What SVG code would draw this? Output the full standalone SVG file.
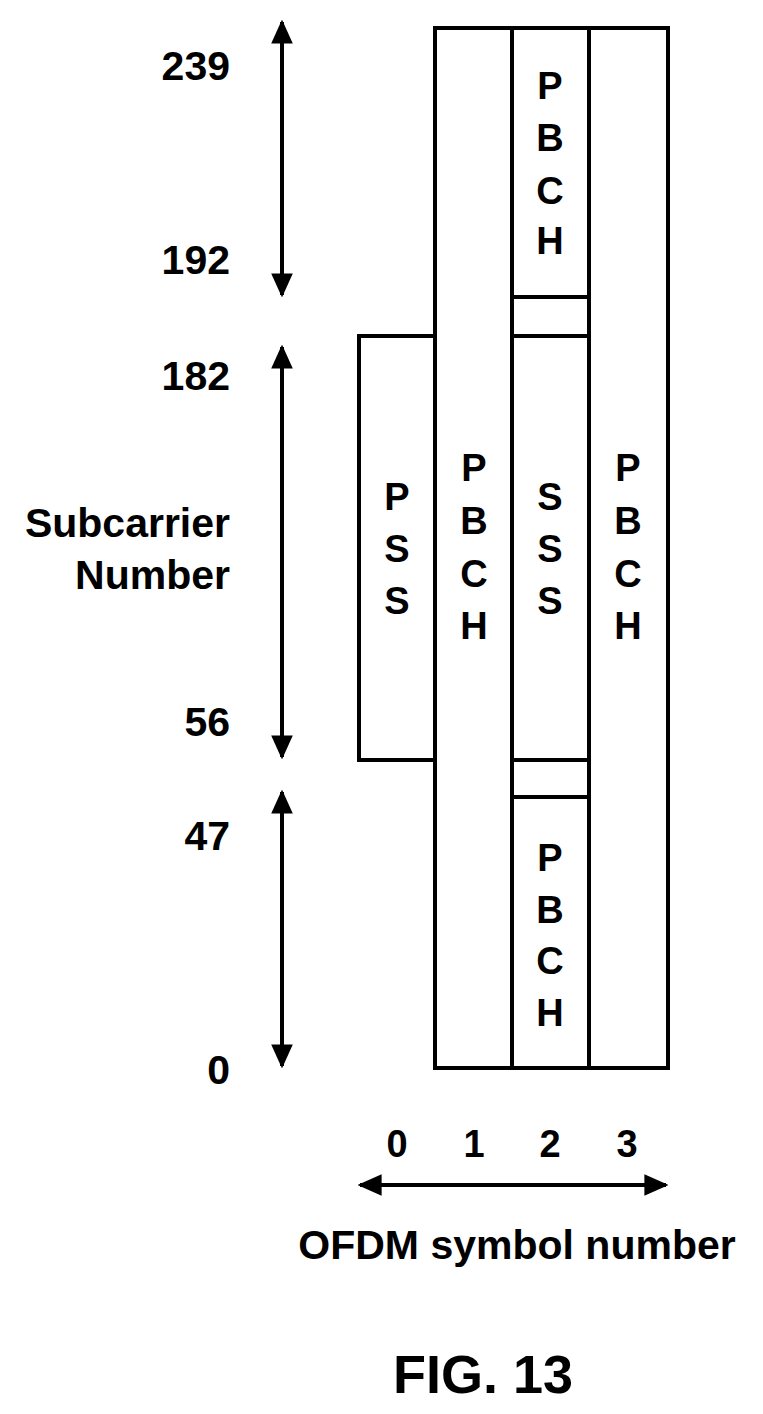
<svg xmlns="http://www.w3.org/2000/svg" width="763" height="1414" viewBox="0 0 763 1414">
<defs>
<marker id="ah" viewBox="0 0 10 10" refX="9" refY="5" markerWidth="6" markerHeight="6" orient="auto-start-reverse"><path d="M0,0.5 L10,5 L0,9.5 z" fill="#000"/></marker>
<style>
.b{fill:#fff;stroke:#000;stroke-width:4}
.t{font-family:"Liberation Sans",Arial,sans-serif;font-weight:bold;font-size:38px;fill:#000}
.l{font-size:41px}
.c{text-anchor:middle}
.r{text-anchor:end}
.a{stroke:#000;stroke-width:4;fill:none;marker-start:url(#ah);marker-end:url(#ah)}
</style>
</defs>
<rect width="763" height="1414" fill="#fff"/>
<g id="pss"><rect class="b" x="359" y="336" width="76" height="424"/>
<text class="t c" x="397" y="510">P</text><text class="t c" x="397" y="562">S</text><text class="t c" x="397" y="614">S</text></g>
<g id="col1"><rect class="b" x="435" y="28" width="77" height="1040"/>
<text class="t c" x="474" y="481">P</text><text class="t c" x="474" y="534">B</text><text class="t c" x="474" y="587">C</text><text class="t c" x="474" y="639">H</text></g>
<g id="col2"><rect class="b" x="512" y="28" width="77" height="1040"/>
<rect class="b" x="512" y="28" width="77" height="269"/>
<text class="t c" x="550" y="99">P</text><text class="t c" x="550" y="151">B</text><text class="t c" x="550" y="204">C</text><text class="t c" x="550" y="254">H</text></g>
<g id="gap1"><rect class="b" x="512" y="297" width="77" height="39"/></g>
<g id="sss"><rect class="b" x="512" y="336" width="77" height="424"/>
<text class="t c" x="550" y="510">S</text><text class="t c" x="550" y="562">S</text><text class="t c" x="550" y="614">S</text></g>
<g id="gap2"><rect class="b" x="512" y="760" width="77" height="37"/></g>
<g id="pbchb"><rect class="b" x="512" y="797" width="77" height="271"/>
<text class="t c" x="550" y="871">P</text><text class="t c" x="550" y="923">B</text><text class="t c" x="550" y="974">C</text><text class="t c" x="550" y="1026">H</text></g>
<g id="col3"><rect class="b" x="589" y="28" width="79" height="1040"/>
<text class="t c" x="628" y="481">P</text><text class="t c" x="628" y="534">B</text><text class="t c" x="628" y="587">C</text><text class="t c" x="628" y="639">H</text></g>
<g id="connectors">
<line class="a" x1="282" y1="22" x2="282" y2="295"/>
<line class="a" x1="282" y1="347" x2="282" y2="757"/>
<line class="a" x1="282" y1="792" x2="282" y2="1066"/>
<line class="a" x1="360" y1="1185" x2="666" y2="1185"/>
</g>
<g id="labels">
<text class="t l r" x="230" y="80">239</text>
<text class="t l r" x="230" y="274">192</text>
<text class="t l r" x="230" y="390">182</text>
<text class="t l r" x="230" y="537">Subcarrier</text>
<text class="t l r" x="230" y="589">Number</text>
<text class="t l r" x="230" y="736">56</text>
<text class="t l r" x="230" y="850">47</text>
<text class="t l r" x="230" y="1084">0</text>
<text class="t c" x="397" y="1157">0</text><text class="t c" x="474" y="1157">1</text><text class="t c" x="550" y="1157">2</text><text class="t c" x="627" y="1157">3</text>
<text class="t l c" x="517" y="1259">OFDM symbol number</text>
<text class="t c" x="483" y="1393" style="font-size:54px">FIG. 13</text>
</g>
</svg>
